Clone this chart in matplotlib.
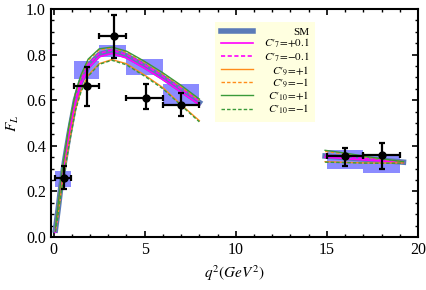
import matplotlib
matplotlib.use("Agg")
import matplotlib.pyplot as plt
from matplotlib.patches import Rectangle
from matplotlib.ticker import MultipleLocator

plt.rcParams['font.family'] = ['Liberation Serif', 'DejaVu Serif']
plt.rcParams['mathtext.fontset'] = 'stix'

# measured bins: centre, half-width, value, errors
q2_bin_lo = [0.1, 1.1, 2.5, 4.0, 6.0, 15.0, 17.0]
q2_bin_hi = [0.98, 2.5, 4.0, 6.0, 8.0, 17.0, 19.0]
q2_pts = [0.57, 1.85, 3.3, 5.05, 7.0, 16.0, 18.0]
fl_pts = [0.26, 0.66, 0.88, 0.61, 0.58, 0.355, 0.358]
fl_err_up = [0.05, 0.085, 0.095, 0.06, 0.05, 0.035, 0.052]
fl_err_dn = [0.05, 0.085, 0.095, 0.05, 0.05, 0.045, 0.058]

# SM binned predictions (boxes)
box_lo = [0.22, 0.695, 0.79, 0.71, 0.585, 0.30, 0.28]
box_hi = [0.29, 0.77, 0.84, 0.78, 0.67, 0.38, 0.366]

# theory curves, low q2 region
x_low = [0.1, 0.25, 0.4, 0.6, 0.85, 1.2, 1.5, 1.9, 2.5, 3.2, 4, 5, 6, 7, 8]
sm_low = [0.03, 0.12, 0.22, 0.33, 0.45, 0.60, 0.68, 0.75, 0.80, 0.815, 0.795, 0.75, 0.70, 0.645, 0.59]
c7p_low = [0.02, 0.11, 0.21, 0.32, 0.44, 0.59, 0.67, 0.74, 0.79, 0.805, 0.785, 0.74, 0.69, 0.635, 0.58]
c7m_low = [0.035, 0.125, 0.23, 0.34, 0.46, 0.61, 0.685, 0.755, 0.805, 0.82, 0.80, 0.755, 0.705, 0.65, 0.595]
c9p_low = [0.025, 0.10, 0.19, 0.29, 0.41, 0.56, 0.64, 0.71, 0.76, 0.778, 0.76, 0.71, 0.655, 0.58, 0.51]
c9m_low = [0.04, 0.135, 0.245, 0.355, 0.485, 0.625, 0.705, 0.775, 0.82, 0.83, 0.81, 0.765, 0.715, 0.66, 0.60]
c10p_low = [0.04, 0.14, 0.25, 0.36, 0.49, 0.63, 0.71, 0.78, 0.825, 0.833, 0.815, 0.77, 0.72, 0.665, 0.605]
c10m_low = [0.022, 0.098, 0.185, 0.285, 0.405, 0.555, 0.635, 0.705, 0.757, 0.775, 0.755, 0.705, 0.65, 0.577, 0.505]

# theory curves, high q2 region
x_high = [14.9, 16, 17, 18, 19.2]
sm_high = [0.355, 0.348, 0.342, 0.336, 0.328]
c7p_high = [0.35, 0.344, 0.338, 0.333, 0.326]
c7m_high = [0.36, 0.352, 0.345, 0.338, 0.33]
c9p_high = [0.33, 0.327, 0.325, 0.324, 0.325]
c9m_high = [0.375, 0.364, 0.352, 0.341, 0.33]
c10p_high = [0.38, 0.368, 0.355, 0.343, 0.33]
c10m_high = [0.328, 0.326, 0.324, 0.323, 0.324]

labels = ['SM', r"$C\prime_7\!=\!{+}0.1$", r"$C\prime_7\!=\!{-}0.1$", r"$C\prime_9\!=\!{+}1$",
          r"$C\prime_9\!=\!{-}1$", r"$C\prime_{10}\!=\!{+}1$", r"$C\prime_{10}\!=\!{-}1$"]

fig = plt.figure(figsize=(4.27, 2.90), dpi=100)
ax = fig.add_axes([0.119, 0.183, 0.860, 0.786])

for lo, hi, blo, bhi in zip(q2_bin_lo, q2_bin_hi, box_lo, box_hi):
    ax.add_patch(Rectangle((lo, blo), hi - lo, bhi - blo, facecolor='#7777ff',
                           edgecolor='none', alpha=0.85, zorder=1))

sm_col = '#5b7bb8'
dash = (0, (2.5, 1.5))
curves = [
    (sm_low, sm_high, dict(color=sm_col, lw=4, ls='-')),
    (c7p_low, c7p_high, dict(color='#ff00ff', lw=1.2, ls='-')),
    (c7m_low, c7m_high, dict(color='#ff00ff', lw=1.2, ls=dash)),
    (c9p_low, c9p_high, dict(color='#ff8c1a', lw=1.0, ls='-')),
    (c9m_low, c9m_high, dict(color='#ff8c1a', lw=1.0, ls=dash)),
    (c10p_low, c10p_high, dict(color='#3a9a3a', lw=1.0, ls='-')),
    (c10m_low, c10m_high, dict(color='#3a9a3a', lw=1.0, ls=dash)),
]
handles = []
for (ylo, yhi, st), lab in zip(curves, labels):
    h, = ax.plot(x_low, ylo, zorder=2, **st, label=lab)
    ax.plot(x_high, yhi, zorder=2, **st)
    handles.append(h)

xerr_lo = [c - lo for c, lo in zip(q2_pts, q2_bin_lo)]
xerr_hi = [hi - c for c, hi in zip(q2_pts, q2_bin_hi)]
ax.errorbar(q2_pts, fl_pts, xerr=[xerr_lo, xerr_hi], yerr=[fl_err_dn, fl_err_up],
            fmt='o', color='black', ms=5, elinewidth=1.6, capsize=2.5, capthick=1.6, zorder=5)

ax.set_xlim(-0.15, 20)
ax.set_ylim(0, 1.0)
ax.xaxis.set_major_locator(MultipleLocator(5))
ax.xaxis.set_minor_locator(MultipleLocator(1))
ax.yaxis.set_major_locator(MultipleLocator(0.2))
ax.yaxis.set_minor_locator(MultipleLocator(0.05))
ax.yaxis.set_major_formatter(matplotlib.ticker.FormatStrFormatter('%.1f'))
ax.tick_params(which='both', direction='in', top=True, right=True, labelsize=11.5)
ax.tick_params(which='major', length=4, width=1.2)
ax.tick_params(which='minor', length=2.5, width=1.0)
for s in ax.spines.values():
    s.set_linewidth(1.5)

ax.set_xlabel(r'$q^2(GeV^2)$', fontsize=11)
ax.set_ylabel(r'$F_L$', fontsize=11)

leg = ax.legend(handles=handles, loc='upper left', bbox_to_anchor=(0.447, 0.945),
                fontsize=8, frameon=True, fancybox=False, handlelength=2.9,
                labelspacing=0.0, borderpad=0.5, handletextpad=1.0,
                borderaxespad=0)
leg.get_frame().set_facecolor('#ffffe0')
leg.get_frame().set_edgecolor('none')
leg.get_frame().set_alpha(1)

# right-align legend labels like the original
renderer = fig.canvas.get_renderer()
widths = [t.get_window_extent(renderer).width for t in leg.get_texts()]
widest = max(widths)
for t, w in zip(leg.get_texts(), widths):
    t.set_position((widest - w, 0))

fig.savefig('out.png', dpi=100)
